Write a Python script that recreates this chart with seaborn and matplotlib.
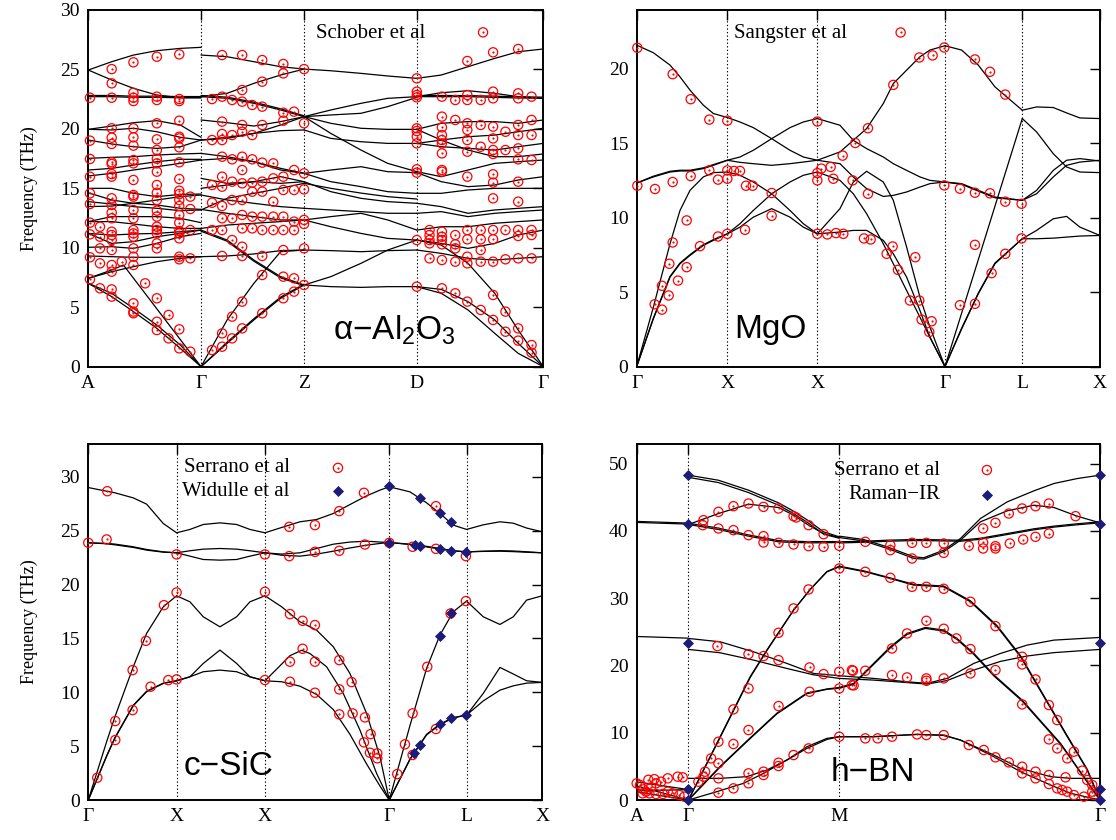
import numpy as np
import pandas as pd
import matplotlib
matplotlib.use("Agg")
import matplotlib.pyplot as plt
import seaborn as sns

# ======================= DATA =======================
# ---------- alpha-Al2O3 (path A-G-Z-D-G) ----------
AL_TICKS = [0, 337, 645, 982, 1360]
AL_LABELS = ["A", "Γ", "Z", "D", "Γ"]

AL_S1_K = [0, 70, 135, 205, 275, 337]
AL_S1_F = [
    [24.95, 25.65, 26.21, 26.58, 26.77, 26.86],
    [24.95, 24.11, 23.41, 22.85, 22.62, 22.62],
    [22.71, 22.71, 22.65, 22.65, 22.62, 22.62],
    [22.81, 22.81, 22.75, 22.75, 22.72, 22.72],
    [19.96, 20.24, 20.52, 20.69, 20.33, 19.29],
    [19.96, 19.91, 20.05, 19.76, 19.29, 19.06],
    [19.06, 18.73, 18.50, 18.36, 18.50, 19.06],
    [17.52, 17.61, 17.66, 17.80, 17.89, 17.94],
    [16.54, 16.68, 16.96, 17.24, 17.44, 17.44],
    [16.04, 16.26, 16.54, 16.82, 17.10, 17.38],
    [15.00, 15.00, 14.58, 14.30, 14.49, 14.52],
    [14.63, 14.02, 13.74, 14.02, 14.30, 14.44],
    [13.88, 13.68, 13.46, 13.32, 13.12, 13.18],
    [13.46, 13.51, 13.74, 13.60, 13.32, 13.23],
    [12.20, 12.62, 12.62, 12.62, 12.48, 12.11],
    [12.20, 12.20, 12.00, 11.77, 11.63, 11.63],
    [11.21, 11.07, 11.16, 11.21, 11.35, 11.49],
    [11.21, 10.37, 10.51, 10.93, 11.21, 11.49],
    [10.04, 10.09, 9.95, 10.37, 10.93, 11.21],
    [9.31, 9.25, 9.20, 9.20, 9.25, 9.25],
    [7.43, 7.99, 8.41, 8.83, 9.11, 9.25],
    [7.01, 5.89, 4.63, 3.22, 1.54, 0.0],
    [7.01, 6.17, 4.91, 3.50, 1.82, 0.0],
]
AL_S1B_K = [0, 70, 105, 337]
AL_S1B_F = [[7.43, 8.13, 8.55, 0.0]]

AL_S2_K = [337, 415, 495, 575, 645]
AL_S2_F = [
    [26.21, 26.07, 25.65, 25.23, 25.03],
    [22.71, 22.99, 23.83, 24.53, 25.03],
    [22.71, 22.57, 22.15, 21.59, 21.03],
    [22.81, 22.67, 22.25, 21.69, 21.10],
    [20.75, 20.52, 20.24, 20.61, 21.03],
    [19.06, 19.20, 19.62, 20.33, 21.03],
    [19.06, 19.29, 19.62, 19.85, 19.91],
    [17.38, 17.52, 17.24, 16.54, 16.26],
    [17.94, 17.66, 17.24, 16.68, 16.26],
    [15.84, 15.42, 15.56, 15.42, 15.56],
    [15.00, 15.28, 15.56, 15.98, 15.56],
    [14.44, 14.02, 13.74, 13.46, 13.32],
    [13.18, 14.16, 14.58, 15.00, 15.42],
    [13.23, 12.90, 12.62, 12.34, 12.34],
    [11.63, 11.91, 12.06, 12.20, 12.34],
    [11.49, 10.65, 8.97, 7.57, 6.87],
    [11.39, 10.55, 8.87, 7.47, 6.80],
    [9.25, 9.31, 9.48, 9.76, 9.81],
    [0.0, 3.93, 7.01, 9.67, 9.81],
    [0.0, 1.96, 3.93, 5.75, 6.87],
    [0.0, 2.06, 4.03, 5.85, 6.94],
]

AL_S3_K = [645, 725, 815, 895, 982]
AL_S3_F = [
    [25.03, 24.89, 24.67, 24.45, 24.25],
    [21.03, 21.59, 22.15, 22.57, 22.71],
    [21.03, 21.17, 21.31, 21.87, 22.65],
    [21.03, 20.47, 20.05, 19.96, 19.96],
    [19.91, 19.20, 18.92, 18.78, 18.78],
    [21.03, 19.62, 18.22, 17.10, 16.40],
    [16.26, 16.54, 16.82, 16.40, 16.32],
    [16.26, 15.56, 15.14, 14.72, 14.58],
    [15.56, 14.72, 14.16, 13.88, 13.74],
    [15.42, 15.00, 14.60, 14.30, 14.10],
    [13.32, 13.18, 13.04, 12.90, 12.90],
    [12.34, 12.62, 12.90, 12.34, 11.49],
    [12.34, 11.77, 11.21, 10.79, 10.65],
    [9.81, 9.76, 9.67, 9.76, 9.81],
    [6.87, 6.73, 6.67, 6.73, 6.73],
    [6.87, 7.57, 8.69, 9.81, 10.65],
]

AL_S4_K = [982, 1055, 1135, 1215, 1285, 1360]
AL_S4_F = [
    [24.25, 24.53, 25.23, 25.93, 26.49, 26.72],
    [22.71, 23.04, 23.21, 22.99, 22.71, 22.57],
    [22.71, 22.71, 22.71, 22.65, 22.60, 22.57],
    [22.81, 22.81, 22.80, 22.75, 22.70, 22.67],
    [19.96, 20.47, 20.61, 20.61, 20.47, 20.75],
    [18.78, 19.06, 19.34, 19.48, 19.76, 20.05],
    [18.78, 18.50, 18.36, 18.22, 18.50, 18.78],
    [19.96, 19.06, 18.22, 17.66, 17.66, 17.89],
    [16.40, 15.98, 16.54, 17.10, 17.24, 17.38],
    [16.32, 15.56, 15.14, 15.28, 15.70, 15.98],
    [14.58, 14.58, 14.86, 15.00, 15.00, 15.00],
    [13.74, 13.46, 12.90, 13.18, 13.32, 13.46],
    [12.90, 13.04, 12.62, 12.90, 13.04, 13.18],
    [11.49, 11.77, 11.77, 12.06, 12.20, 12.34],
    [10.65, 10.37, 9.95, 10.37, 11.07, 11.49],
    [9.81, 9.53, 9.11, 8.97, 9.11, 9.25],
    [6.73, 6.50, 5.47, 3.93, 1.96, 0.0],
    [10.65, 10.23, 8.69, 6.17, 3.08, 0.0],
    [6.73, 6.17, 4.77, 2.80, 1.12, 0.0],
]

# Schober et al: measured points, grouped in columns along the path
AL_COL_K = [5, 35, 70, 100, 135, 170, 205, 240, 272, 305, 370, 400, 430, 460, 490,
            520, 553, 583, 615, 645, 982, 1020, 1057, 1097, 1133, 1173, 1180, 1210,
            1247, 1285, 1325]
AL_COL_F = [
    [22.62, 19.01, 17.47, 15.98, 14.58, 13.68, 12.11, 11.13, 9.20, 7.35],
    [11.77, 10.93, 9.95, 8.69, 6.59],
    [25.03, 23.83, 22.62, 20.05, 19.26, 18.73, 17.19, 17.05, 16.20, 15.98, 14.16, 13.60,
     12.95, 12.48, 11.35, 11.07, 10.65, 9.81, 8.55, 7.99, 6.50, 5.89],
    [8.83],
    [25.60, 23.04, 22.62, 22.34, 20.05, 19.29, 18.59, 17.38, 17.10, 15.70, 14.44, 14.30,
     13.18, 12.48, 11.49, 11.21, 10.93, 9.95, 9.25, 8.55, 5.33, 4.63, 4.49],
    [7.01],
    [26.07, 22.71, 22.43, 20.47, 19.12, 18.22, 17.49, 17.10, 16.40, 15.28, 14.63, 14.02,
     13.12, 12.62, 11.77, 11.49, 11.21, 10.37, 9.95, 5.75, 3.78, 3.08],
    [4.35, 2.38],
    [26.27, 22.51, 22.34, 20.69, 19.34, 19.20, 18.45, 17.19, 15.78, 14.80, 14.52, 14.02,
     13.51, 12.76, 12.11, 11.41, 11.21, 10.79, 9.25, 9.03, 3.14, 1.54],
    [14.30, 13.26, 11.49, 9.11, 1.26],
    [22.51, 19.06, 15.28, 13.79, 11.49, 1.40],
    [26.21, 22.71, 20.61, 19.57, 19.06, 17.66, 15.98, 15.14, 13.51, 12.48, 11.49, 9.31, 2.80, 1.68],
    [22.43, 19.48, 17.44, 15.56, 14.02, 12.48, 10.65, 4.21, 2.38],
    [26.21, 23.27, 22.29, 20.33, 19.76, 17.66, 16.54, 15.42, 14.02, 12.76, 11.63, 10.09, 9.31, 5.47, 3.22],
    [22.01, 19.48, 17.44, 15.48, 14.72, 12.62, 11.63],
    [25.79, 23.97, 21.87, 20.33, 17.16, 15.56, 14.72, 12.62, 11.49, 9.31, 7.71, 4.49],
    [17.10, 15.84, 13.88, 12.62, 11.49],
    [25.46, 24.67, 21.36, 20.69, 15.98, 14.86, 12.62, 11.49, 9.81, 7.57, 5.75],
    [21.45, 16.54, 14.86, 12.20, 11.49, 7.43, 6.31],
    [25.03, 20.47, 16.26, 14.91, 12.34, 12.00, 9.95, 6.87],
    [24.25, 23.13, 22.85, 22.65, 20.05, 19.82, 19.34, 18.78, 16.60, 16.32, 10.65, 6.73],
    [11.49, 11.07, 10.65, 10.37, 9.11],
    [22.71, 21.03, 20.13, 19.48, 19.06, 18.78, 17.94, 16.54, 16.40, 11.35, 10.93, 10.65, 10.29, 8.97, 6.59],
    [22.43, 20.75, 11.07, 10.29, 9.95, 8.83, 6.17],
    [25.71, 22.85, 22.43, 20.47, 19.91, 19.06, 18.08, 15.98, 11.49, 10.71, 9.25, 8.69, 5.47],
    [22.43, 20.33, 18.50, 11.49, 10.71, 9.81, 8.83, 4.77],
    [28.12],
    [26.44, 23.13, 22.57, 20.19, 19.20, 18.22, 17.89, 16.18, 15.48, 14.16, 11.49, 10.71, 8.83, 6.03, 3.93],
    [19.76, 18.22, 11.49, 9.03, 4.63, 2.94],
    [26.72, 22.99, 22.57, 20.33, 19.48, 18.36, 17.44, 15.56, 13.88, 11.49, 10.99, 9.11, 3.22, 2.19],
    [22.71, 20.75, 19.48, 17.38, 11.49, 11.07, 9.11, 1.82, 1.18],
]

# ---------- MgO (path G-X-X-G-L-X) ----------
MGO_TICKS = [0, 272, 542, 925, 1157, 1390]
MGO_LABELS = ["Γ", "X", "X", "Γ", "L", "X"]

MGO_S1_K = [0, 50, 100, 130, 160, 200, 230, 272]
MGO_S1_F = [
    [21.59, 21.08, 20.25, 19.46, 18.57, 17.56, 17.00, 16.73],
    [12.33, 12.74, 13.07, 13.14, 13.14, 13.30, 13.52, 13.86],
    [12.33, 12.79, 13.12, 13.19, 13.19, 13.35, 13.57, 13.86],
    [0.0, 3.99, 8.25, 10.49, 11.84, 12.74, 13.03, 13.07],
    [0.0, 3.21, 6.01, 6.91, 7.47, 8.14, 8.48, 8.92],
    [0.0, 3.26, 6.06, 6.96, 7.52, 8.19, 8.53, 8.92],
]
MGO_S2_K = [272, 310, 350, 405, 460, 500, 542]
MGO_S2_F = [
    [16.73, 16.43, 16.05, 15.31, 14.53, 14.08, 13.86],
    [13.86, 14.08, 14.53, 15.31, 16.05, 16.43, 16.66],
    [13.86, 13.72, 13.63, 13.52, 13.63, 13.74, 13.86],
    [13.07, 12.85, 12.40, 11.61, 10.49, 9.60, 8.92],
    [8.92, 9.60, 10.49, 11.61, 12.40, 12.85, 13.07],
    [8.92, 9.37, 10.04, 10.61, 10.04, 9.37, 8.92],
]
MGO_S3_K = [542, 610, 650, 690, 740, 770, 810, 850, 880, 925]
MGO_S3_F = [
    [16.66, 16.21, 15.20, 14.64, 14.08, 13.63, 13.18, 12.74, 12.51, 12.40],
    [13.86, 14.42, 15.20, 15.99, 17.67, 19.01, 19.91, 20.81, 21.26, 21.55],
    [13.86, 13.63, 12.74, 11.95, 11.43, 11.50, 11.73, 12.06, 12.29, 12.40],
    [13.07, 12.51, 11.61, 10.27, 8.25, 6.91, 5.11, 3.32, 1.97, 0.0],
    [8.92, 10.61, 12.40, 13.12, 12.40, 11.17, 8.03, 4.66, 2.65, 0.0],
    [8.92, 9.04, 9.15, 9.15, 8.48, 7.58, 6.01, 3.77, 1.97, 0.0],
]
MGO_S4_K = [925, 975, 1025, 1075, 1157]
MGO_S4_F = [
    [21.55, 21.26, 20.25, 18.79, 17.22],
    [12.40, 12.29, 11.84, 11.39, 11.17],
    [12.40, 12.24, 11.79, 11.34, 11.17],
    [0.0, 2.53, 4.89, 6.91, 8.59],
    [0.0, 2.58, 4.94, 6.96, 8.59],
]
MGO_S4B_K = [925, 1157]
MGO_S4B_F = [[0.0, 16.66]]
MGO_S5_K = [1157, 1200, 1250, 1290, 1330, 1390]
MGO_S5_F = [
    [17.22, 17.44, 17.40, 17.04, 16.70, 16.66],
    [16.66, 15.76, 14.30, 13.41, 13.07, 13.03],
    [11.17, 11.84, 13.18, 13.86, 13.97, 13.81],
    [11.17, 11.61, 12.74, 13.52, 13.74, 13.86],
    [8.59, 9.15, 9.93, 10.09, 9.37, 8.81],
    [8.59, 8.59, 8.63, 8.70, 8.77, 8.81],
]
# Sangster et al
MGO_PTS = [
    (2, 21.41), (108, 19.64), (162, 17.96), (218, 16.59), (272, 16.52),
    (2, 12.15), (55, 11.93), (108, 12.40), (162, 12.80), (218, 13.18), (244, 12.56), (272, 13.18),
    (272, 12.62), (292, 13.14), (310, 13.14), (328, 12.15), (348, 12.15), (405, 11.66), (405, 10.13),
    (325, 9.19), (244, 8.74), (272, 8.92), (190, 8.09), (150, 6.68), (150, 9.82), (108, 8.34),
    (98, 6.91), (124, 5.78), (76, 5.43), (96, 4.78), (54, 4.19), (76, 3.83),
    (542, 16.46), (542, 13.00), (542, 12.51), (554, 13.30), (582, 13.41), (590, 12.62), (618, 14.17),
    (648, 12.51), (656, 15.02), (542, 8.92), (572, 8.88), (598, 8.97), (620, 8.92),
    (792, 22.44), (923, 21.43), (848, 20.76), (888, 20.90), (1015, 20.63), (1060, 19.80), (1106, 18.27),
    (770, 18.92), (694, 16.01), (694, 11.61), (923, 12.17), (970, 11.95), (1015, 11.68), (1060, 11.64),
    (1106, 11.08), (1155, 10.94), (682, 8.61), (702, 8.54), (768, 8.07), (750, 7.58), (784, 6.50),
    (836, 7.35), (820, 4.44), (848, 4.44), (855, 3.16), (885, 3.05), (878, 2.33), (970, 4.13),
    (1015, 4.22), (1065, 6.28), (1106, 7.58), (1015, 8.18), (1155, 8.61),
]

# ---------- c-SiC (path G-X-X-G-L-X) ----------
SIC_TICKS = [0, 265, 530, 903, 1135, 1362]
SIC_LABELS = ["Γ", "X", "X", "Γ", "L", "X"]

SIC_S1_K = [0, 55, 80, 135, 175, 225, 265]
SIC_S1_F = [
    [29.01, 28.67, 28.52, 28.05, 27.47, 25.67, 24.81],
    [23.88, 23.82, 23.76, 23.51, 23.26, 23.04, 22.95],
    [23.88, 23.79, 23.69, 23.45, 23.20, 23.01, 22.95],
    [0.0, 5.41, 7.73, 12.37, 15.47, 17.94, 18.96],
    [0.0, 4.10, 5.80, 8.80, 10.10, 10.85, 11.07],
    [0.0, 4.05, 5.75, 8.75, 10.05, 10.82, 11.07],
]
SIC_S2_K = [265, 305, 345, 395, 445, 485, 530]
SIC_S2_F = [
    [24.81, 25.12, 25.58, 25.73, 25.58, 25.12, 24.81],
    [22.95, 23.14, 23.29, 23.35, 23.29, 23.14, 22.95],
    [22.95, 22.64, 22.33, 22.27, 22.33, 22.64, 22.95],
    [18.96, 18.40, 17.01, 16.08, 17.01, 18.40, 18.96],
    [11.07, 11.44, 12.68, 13.92, 12.68, 11.44, 11.07],
    [11.07, 11.44, 11.91, 12.06, 11.91, 11.44, 11.07],
]
SIC_S3_K = [530, 580, 635, 685, 735, 785, 835, 875, 903]
SIC_S3_F = [
    [24.81, 25.30, 25.83, 26.04, 26.60, 27.43, 28.24, 28.77, 29.08],
    [22.95, 22.83, 22.95, 23.35, 23.75, 23.95, 24.03, 23.95, 23.91],
    [22.95, 22.73, 22.64, 22.83, 23.10, 23.40, 23.66, 23.82, 23.91],
    [18.96, 17.94, 16.55, 15.77, 14.23, 11.75, 8.04, 4.02, 0.0],
    [11.07, 10.98, 10.57, 9.80, 8.40, 6.10, 3.35, 1.30, 0.0],
]
SIC_S3B_K = [530, 570, 605, 640, 665, 715, 765, 815, 865, 903]
SIC_S3B_F = [[11.07, 12.30, 13.40, 13.90, 13.60, 12.37, 9.89, 6.50, 2.47, 0.0]]
SIC_S4_K = [903, 965, 1015, 1055, 1095, 1135]
SIC_S4_F = [
    [29.08, 28.61, 27.59, 26.60, 25.52, 25.12],
    [23.91, 23.75, 23.55, 23.35, 23.15, 23.04],
    [23.91, 23.72, 23.50, 23.30, 23.12, 23.04],
    [0.0, 6.90, 12.22, 15.31, 17.48, 18.47],
    [0.0, 3.80, 6.10, 7.05, 7.65, 7.89],
    [0.0, 3.75, 6.05, 7.00, 7.62, 7.89],
]
SIC_S5_K = [1135, 1185, 1235, 1275, 1315, 1362]
SIC_S5_F = [
    [25.12, 25.55, 25.83, 25.70, 25.25, 24.90],
    [23.04, 23.10, 23.15, 23.12, 23.05, 22.95],
    [23.04, 23.08, 23.10, 23.06, 23.00, 22.95],
    [18.47, 17.01, 16.30, 17.01, 18.56, 18.96],
    [7.89, 9.90, 12.31, 11.70, 11.07, 10.92],
    [7.89, 9.20, 10.20, 10.60, 10.85, 10.92],
]
SIC_SERRANO = [
    (57, 28.67), (0, 23.88), (55, 24.19), (265, 22.80), (530, 22.80), (603, 22.64), (680, 23.04),
    (603, 25.36), (680, 25.52), (265, 19.27), (530, 19.33), (227, 18.09), (173, 14.78), (133, 12.06),
    (81, 7.33), (81, 5.57), (133, 8.35), (187, 10.52), (240, 11.13), (265, 11.20), (530, 11.14),
    (605, 10.98), (680, 9.96), (605, 17.26), (643, 16.64), (680, 16.24), (605, 12.84), (643, 14.04),
    (680, 12.84), (27, 2.07), (827, 28.52), (753, 26.82), (753, 23.14), (830, 23.72), (903, 23.88),
    (973, 23.51), (1043, 23.32), (1133, 22.64), (1043, 27.28), (753, 12.99), (790, 10.95), (753, 10.27),
    (753, 7.95), (793, 8.04), (830, 7.67), (847, 6.12), (827, 5.35), (845, 4.39), (867, 4.33),
    (867, 3.87), (927, 2.41), (950, 5.17), (973, 8.04), (973, 4.18), (1017, 12.37), (1087, 17.32),
    (1133, 18.47), (1043, 6.59),
]
SIC_WIDULLE = [
    (903, 29.14), (995, 28.05), (1055, 26.60), (1087, 25.77), (903, 23.88), (980, 23.66), (995, 23.57),
    (1055, 23.29), (1087, 23.11), (1133, 22.98), (1087, 17.32), (1055, 15.22), (978, 4.39), (995, 5.10),
    (1055, 7.05), (1087, 7.58), (1133, 7.89),
]

# ---------- h-BN (path A-G-M-G) ----------
BN_TICKS = [0, 155, 607, 1388]
BN_LABELS = ["A", "Γ", "M", "Γ"]

BN_S1_K = [0, 155]
BN_S1_F = [[41.25, 41.00], [41.40, 41.15], [24.30, 24.05], [2.70, 1.55], [2.10, 0.0], [1.35, 1.55], [1.20, 0.0]]
BN_S2_K = [155, 245, 335, 425, 470, 515, 560, 607]
BN_S2_F = [
    [48.27, 47.52, 46.04, 44.16, 42.92, 41.49, 39.85, 39.11],
    [47.95, 47.17, 45.69, 43.81, 42.57, 41.14, 39.50, 38.90],
    [40.94, 42.57, 43.96, 43.47, 42.33, 40.84, 39.60, 39.01],
    [40.94, 40.20, 39.21, 38.37, 38.27, 38.22, 38.22, 38.27],
    [41.14, 40.40, 39.40, 38.55, 38.45, 38.40, 38.40, 38.40],
]
BN_S2B_K = [155, 240, 290, 340, 390, 430, 470, 520, 570, 607]
BN_S2B_F = [
    [0.0, 8.42, 13.37, 18.32, 22.28, 25.25, 28.22, 31.29, 33.91, 34.65],
    [0.0, 8.30, 13.25, 18.20, 22.20, 25.20, 28.20, 31.30, 33.95, 34.75],
]
BN_S2C_K = [155, 200, 250, 335, 420, 510, 570, 607]
BN_S2C_F = [
    [0.0, 2.40, 5.00, 9.00, 12.90, 15.90, 16.50, 16.73],
    [0.0, 2.30, 4.90, 8.90, 12.80, 15.80, 16.45, 16.60],
]
BN_S2D_K = [155, 240, 320, 380, 450, 510, 570, 607]
BN_S2D_F = [[0.0, 1.24, 2.48, 3.96, 5.94, 7.92, 9.16, 9.41]]
BN_S2E_K = [155, 250, 330, 390, 450, 510, 570, 607]
BN_S2E_F = [[3.22, 3.22, 3.47, 4.46, 5.94, 7.67, 9.00, 9.41]]
BN_S2F_K = [155, 250, 350, 450, 530, 607]
BN_S2F_F = [
    [24.01, 23.51, 22.03, 20.30, 18.81, 18.47],
    [22.38, 21.88, 20.79, 19.55, 18.60, 18.07],
]
BN_S3_K = [607, 680, 750, 830, 860, 920, 970, 1030, 1110, 1190, 1250, 1320, 1388]
BN_S3_F = [
    [39.21, 38.71, 37.63, 36.14, 36.00, 37.13, 38.86, 41.83, 44.30, 45.94, 47.03, 47.77, 48.27],
    [39.00, 38.50, 37.40, 35.90, 35.80, 36.90, 38.60, 41.34, 42.97, 43.81, 43.47, 42.18, 41.19],
    [38.37, 38.45, 38.61, 38.71, 38.71, 38.65, 38.61, 38.90, 39.60, 40.30, 40.70, 41.05, 41.34],
    [38.20, 38.30, 38.45, 38.55, 38.55, 38.50, 38.45, 38.75, 39.45, 40.15, 40.55, 40.90, 41.19],
]
BN_S3B_K = [607, 685, 760, 830, 920, 1000, 1080, 1150, 1220, 1290, 1350, 1388]
BN_S3B_F = [
    [34.65, 33.91, 32.92, 31.93, 31.68, 29.46, 25.74, 21.29, 15.35, 9.41, 4.46, 0.0],
    [34.75, 34.00, 33.00, 32.05, 31.80, 29.60, 25.90, 21.45, 15.50, 9.55, 4.55, 0.0],
]
BN_S3C_K = [607, 650, 710, 760, 810, 865, 920, 960, 1010, 1070, 1155, 1270, 1388]
BN_S3C_F = [
    [16.73, 17.33, 20.30, 22.77, 24.75, 25.64, 25.25, 24.00, 21.80, 18.60, 14.85, 8.42, 0.0],
    [16.60, 17.20, 20.15, 22.60, 24.60, 25.50, 25.10, 23.85, 21.65, 18.45, 14.70, 8.30, 0.0],
]
BN_S3D_K = [607, 710, 810, 870, 930, 1010, 1090, 1170, 1250, 1388]
BN_S3D_F = [
    [18.47, 18.07, 17.57, 17.33, 18.07, 20.30, 21.78, 23.02, 23.76, 24.16],
    [18.07, 17.82, 17.45, 17.23, 17.75, 19.31, 20.60, 21.40, 21.90, 22.38],
]
BN_S3E_K = [607, 710, 840, 920, 970, 1070, 1150, 1240, 1300, 1388]
BN_S3E_F = [
    [9.41, 9.41, 9.75, 9.65, 8.91, 6.68, 4.70, 3.47, 3.22, 3.22],
    [9.41, 9.41, 9.75, 9.60, 8.91, 6.44, 4.21, 2.23, 1.00, 0.0],
]
BN_SERRANO = [
    (200, 41.58), (245, 42.82), (290, 43.66), (335, 44.06), (380, 43.56), (425, 43.32), (470, 42.18),
    (478, 41.98), (515, 40.84), (560, 39.50), (198, 40.84), (245, 40.35), (290, 40.10), (335, 39.36),
    (380, 39.21), (380, 38.27), (425, 38.22), (470, 37.97), (515, 37.72), (560, 37.62), (607, 37.77),
    (607, 34.41), (515, 31.29), (470, 28.47), (425, 24.85), (380, 21.39), (335, 16.58), (290, 13.47),
    (245, 8.66), (242, 22.87), (335, 21.68), (425, 20.79), (518, 19.70), (560, 18.71), (607, 19.06),
    (648, 19.21), (607, 16.58), (650, 17.03), (518, 16.09), (425, 13.96), (335, 10.40), (290, 8.32),
    (223, 6.19), (245, 5.45), (205, 4.21), (200, 3.47), (185, 2.72), (515, 7.67), (470, 6.68),
    (425, 5.54), (425, 5.05), (380, 4.21), (380, 3.71), (335, 3.96), (335, 2.48), (290, 1.73),
    (245, 1.09), (245, 3.22), (607, 9.41),
    (0, 2.48), (10, 2.23), (20, 1.58), (28, 1.24), (43, 1.88), (58, 2.48), (73, 2.72), (93, 3.22),
    (123, 3.47), (138, 3.37), (35, 3.00), (53, 3.10), (18, 0.99), (38, 0.99), (58, 0.89), (78, 0.89),
    (93, 1.24), (108, 0.99), (128, 0.74), (143, 0.50),
    (685, 38.37), (760, 37.87), (760, 37.13), (825, 38.22), (825, 35.89), (868, 38.22), (920, 38.12),
    (920, 36.73), (995, 37.77), (1038, 40.35), (1038, 38.27), (1038, 37.38), (1075, 41.19), (1075, 37.72),
    (1075, 37.38), (1115, 42.57), (1118, 38.12), (1155, 43.32), (1158, 38.71), (1195, 43.66), (1195, 39.11),
    (1235, 44.06), (1235, 39.60), (1315, 42.18),
    (685, 33.91), (760, 33.02), (825, 31.68), (868, 31.68), (920, 31.39), (1000, 29.46), (1075, 25.84),
    (1155, 21.29), (1155, 20.15), (1195, 17.92), (1155, 14.21), (1235, 14.11), (1260, 11.88), (1235, 9.01),
    (1260, 7.67), (1310, 7.18), (1290, 6.19),
    (868, 26.63), (810, 24.75), (920, 25.45), (958, 24.01), (1000, 22.43), (645, 19.31), (685, 19.21),
    (765, 18.56), (810, 18.22), (868, 18.07), (868, 17.72), (920, 18.07), (1000, 18.81), (1075, 19.31),
    (645, 17.08), (765, 22.52),
    (685, 9.16), (722, 9.16), (765, 9.41), (840, 9.75), (868, 9.65), (920, 9.65), (995, 8.17), (1040, 7.43),
    (1075, 6.34), (1115, 5.59), (1155, 4.95), (1155, 3.96), (1195, 4.21), (1195, 3.22), (1235, 3.71),
    (1235, 2.38), (1260, 1.73), (1275, 1.49), (1290, 1.24), (1310, 0.74), (1340, 0.50), (1285, 3.37),
    (1335, 4.36), (1350, 2.97), (1365, 2.23), (1365, 1.24), (1370, 0.74),
]
BN_RAMAN = [
    (155, 48.27), (155, 41.00), (155, 23.37), (155, 1.58), (155, 0.0),
    (1388, 48.37), (1388, 40.99), (1388, 23.37), (1388, 1.58), (1388, 0.0),
]

# ======================= STYLE =======================
sns.set_theme(style="white")
plt.rcParams["font.family"] = ["Liberation Serif", "DejaVu Serif"]
plt.rcParams["mathtext.default"] = "regular"
for key in ["text.color", "axes.labelcolor", "xtick.color", "ytick.color", "axes.edgecolor"]:
    plt.rcParams[key] = "black"
NAVY = "#1c1c78"
SANS = ["Liberation Sans", "DejaVu Sans"]


def lines_frame(segments):
    rows = []
    for si, (k, curves) in enumerate(segments):
        for ci, f in enumerate(curves):
            assert len(k) == len(f), (si, ci, len(k), len(f))
            for kk, ff in zip(k, f):
                rows.append({"k": kk, "f": ff, "branch": f"{si}-{ci}"})
    return pd.DataFrame(rows)


def draw_panel(ax, segments, ticks, labels, ymax, yticks):
    df = lines_frame(segments)
    sns.lineplot(data=df, x="k", y="f", units="branch", estimator=None, sort=False,
                 color="black", linewidth=0.9, ax=ax, legend=False, zorder=3)
    for t in ticks[1:-1]:
        ax.axvline(t, color="black", linestyle=(0, (1.2, 2.0)), linewidth=0.8, zorder=1)
    ax.set_xlim(ticks[0], ticks[-1])
    ax.set_ylim(0, ymax)
    ax.set_xticks(ticks)
    ax.set_xticklabels(labels)
    ax.set_yticks(yticks)
    ax.tick_params(direction="in", top=True, right=True, length=7, width=1.0,
                   labelsize=14, pad=6, colors="black")
    for s in ax.spines.values():
        s.set_linewidth(1.4)
        s.set_color("black")


def finish_labels(ax, ylabel=None):
    ax.set_xlabel("")
    if ylabel:
        ax.set_ylabel(ylabel, fontsize=13, labelpad=16, color="black")
    else:
        ax.set_ylabel("")


def draw_circles(ax, pts):
    df = pd.DataFrame(pts, columns=["k", "f"])
    sns.scatterplot(data=df, x="k", y="f", ax=ax, s=44, marker="o", legend=False, zorder=5)
    c = ax.collections[-1]
    c.set_facecolor("none")
    c.set_edgecolor("red")
    c.set_linewidth(0.9)
    c.set_clip_on(False)
    sns.scatterplot(data=df, x="k", y="f", ax=ax, s=2.5, marker="o", color="red",
                    linewidth=0, legend=False, zorder=6)
    ax.collections[-1].set_clip_on(False)


def draw_diamonds(ax, pts):
    df = pd.DataFrame(pts, columns=["k", "f"])
    sns.scatterplot(data=df, x="k", y="f", ax=ax, s=32, marker="D", color=NAVY,
                    linewidth=0, legend=False, zorder=7)
    ax.collections[-1].set_clip_on(False)


def legend_row(ax, xt, xm, y, text, kind):
    ax.text(xt, y, text, transform=ax.transAxes, ha="right", va="center", fontsize=15)
    if kind == "circle":
        ax.scatter([xm], [y], transform=ax.transAxes, s=44, facecolor="none",
                   edgecolor="red", linewidth=0.9, zorder=8)
        ax.scatter([xm], [y], transform=ax.transAxes, s=2.5, color="red", linewidth=0, zorder=9)
    else:
        ax.scatter([xm], [y], transform=ax.transAxes, s=32, marker="D", color=NAVY,
                   linewidth=0, zorder=8)


fig = plt.figure(figsize=(11.16, 8.4), dpi=100)
ax1 = fig.add_axes([0.0791, 0.5635, 0.4077, 0.4246])
ax2 = fig.add_axes([0.5705, 0.5635, 0.4151, 0.4246])
ax3 = fig.add_axes([0.0791, 0.0476, 0.4068, 0.4238])
ax4 = fig.add_axes([0.5705, 0.0476, 0.4151, 0.4238])

# ---- Al2O3 ----
al_pts = [(k, f) for k, col in zip(AL_COL_K, AL_COL_F) for f in col]
draw_panel(ax1, [(AL_S1_K, AL_S1_F), (AL_S1B_K, AL_S1B_F), (AL_S2_K, AL_S2_F),
                 (AL_S3_K, AL_S3_F), (AL_S4_K, AL_S4_F)],
           AL_TICKS, AL_LABELS, 30, [0, 5, 10, 15, 20, 25, 30])
draw_circles(ax1, al_pts)
ax1.text(0.621, 0.935, "Schober et al", transform=ax1.transAxes, ha="center", va="center", fontsize=15)
ax1.text(0.672, 0.103, "α−Al$_2$O$_3$", transform=ax1.transAxes, ha="center", va="center",
         fontsize=24, family=SANS)
finish_labels(ax1, "Frequency (THz)")

# ---- MgO ----
draw_panel(ax2, [(MGO_S1_K, MGO_S1_F), (MGO_S2_K, MGO_S2_F), (MGO_S3_K, MGO_S3_F),
                 (MGO_S4_K, MGO_S4_F), (MGO_S4B_K, MGO_S4B_F), (MGO_S5_K, MGO_S5_F)],
           MGO_TICKS, MGO_LABELS, 23.95, [0, 5, 10, 15, 20])
draw_circles(ax2, MGO_PTS)
ax2.text(0.331, 0.935, "Sangster et al", transform=ax2.transAxes, ha="center", va="center", fontsize=15)
ax2.text(0.288, 0.103, "MgO", transform=ax2.transAxes, ha="center", va="center", fontsize=24, family=SANS)
finish_labels(ax2)

# ---- SiC ----
draw_panel(ax3, [(SIC_S1_K, SIC_S1_F), (SIC_S2_K, SIC_S2_F), (SIC_S3_K, SIC_S3_F),
                 (SIC_S3B_K, SIC_S3B_F), (SIC_S4_K, SIC_S4_F), (SIC_S5_K, SIC_S5_F)],
           SIC_TICKS, SIC_LABELS, 33.05, [0, 5, 10, 15, 20, 25, 30])
draw_circles(ax3, SIC_SERRANO)
draw_diamonds(ax3, SIC_WIDULLE)
legend_row(ax3, 0.444, 0.55, 0.933, "Serrano et al", "circle")
legend_row(ax3, 0.444, 0.55, 0.868, "Widulle et al", "diamond")
ax3.text(0.31, 0.093, "c−SiC", transform=ax3.transAxes, ha="center", va="center", fontsize=24, family=SANS)
finish_labels(ax3, "Frequency (THz)")

# ---- h-BN ----
draw_panel(ax4, [(BN_S1_K, BN_S1_F), (BN_S2_K, BN_S2_F), (BN_S2B_K, BN_S2B_F), (BN_S2C_K, BN_S2C_F),
                 (BN_S2D_K, BN_S2D_F), (BN_S2E_K, BN_S2E_F), (BN_S2F_K, BN_S2F_F), (BN_S3_K, BN_S3_F),
                 (BN_S3B_K, BN_S3B_F), (BN_S3C_K, BN_S3C_F), (BN_S3D_K, BN_S3D_F), (BN_S3E_K, BN_S3E_F)],
           BN_TICKS, BN_LABELS, 52.9, [0, 10, 20, 30, 40, 50])
draw_circles(ax4, BN_SERRANO)
draw_diamonds(ax4, BN_RAMAN)
legend_row(ax4, 0.655, 0.756, 0.927, "Serrano et al", "circle")
legend_row(ax4, 0.655, 0.756, 0.857, "Raman−IR", "diamond")
ax4.text(0.51, 0.076, "h−BN", transform=ax4.transAxes, ha="center", va="center", fontsize=24, family=SANS)
finish_labels(ax4)

fig.savefig("out.png", dpi=100)
